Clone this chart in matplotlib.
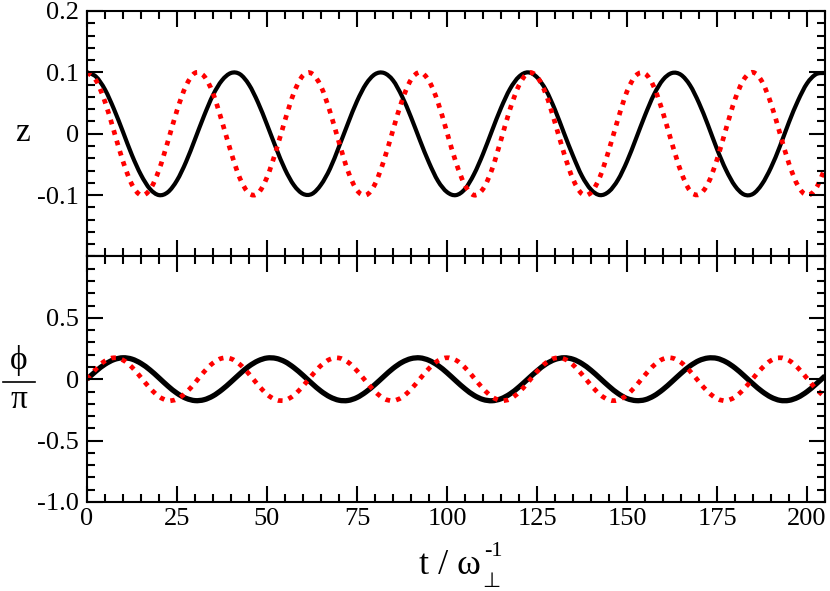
import numpy as np
import matplotlib
matplotlib.use("Agg")
import matplotlib.pyplot as plt
from matplotlib import font_manager as fm
from matplotlib.lines import Line2D
from matplotlib.path import Path
from matplotlib.patches import PathPatch
from matplotlib.ticker import MultipleLocator

# time grid (units of 1/omega_perp), one reading every 2.5
t = np.arange(83) * 2.5

# z(t), black solid curve
z_black = [
    0.100, 0.093, 0.072, 0.040, 0.003, -0.035, -0.067, -0.090, -0.100, -0.095,
    -0.076, -0.046, -0.009, 0.029, 0.063, 0.087, 0.099, 0.097, 0.080, 0.051,
    0.015, -0.023, -0.058, -0.084, -0.098, -0.098, -0.083, -0.057, -0.021, 0.017,
    0.053, 0.081, 0.097, 0.099, 0.087, 0.061, 0.027, -0.011, -0.047, -0.077,
    -0.095, -0.100, -0.090, -0.066, -0.033, 0.005, 0.042, 0.073, 0.093, 0.100,
    0.092, 0.071, 0.039, 0.001, -0.036, -0.069, -0.091, -0.100, -0.094, -0.075,
    -0.045, -0.008, 0.030, 0.064, 0.088, 0.099, 0.096, 0.079, 0.050, 0.014,
    -0.025, -0.059, -0.085, -0.099, -0.098, -0.082, -0.055, -0.020, 0.019, 0.054,
    0.082, 0.097, 0.099,
]

# z(t), red dotted curve
z_red = [
    0.100, 0.087, 0.052, 0.004, -0.045, -0.083, -0.100, -0.091, -0.059, -0.012,
    0.038, 0.078, 0.099, 0.094, 0.066, 0.020, -0.030, -0.073, -0.097, -0.097,
    -0.071, -0.028, 0.022, 0.067, 0.095, 0.098, 0.077, 0.036, -0.014, -0.061,
    -0.092, -0.100, -0.082, -0.043, 0.006, 0.054, 0.088, 0.100, 0.086, 0.051,
    0.002, -0.047, -0.084, -0.100, -0.090, -0.058, -0.010, 0.040, 0.079, 0.099,
    0.093, 0.064, 0.018, -0.032, -0.074, -0.098, -0.096, -0.070, -0.026, 0.024,
    0.069, 0.095, 0.098, 0.076, 0.034, -0.016, -0.062, -0.093, -0.099, -0.081,
    -0.042, 0.008, 0.056, 0.089, 0.100, 0.085, 0.049, 0.000, -0.049, -0.085,
    -0.100, -0.089, -0.056,
]

# phi/pi, black solid curve
phi_black = [
    0.000, 0.066, 0.122, 0.160, 0.175, 0.164, 0.129, 0.076, 0.011, -0.056,
    -0.114, -0.155, -0.174, -0.167, -0.136, -0.085, -0.022, 0.045, 0.106, 0.150,
    0.173, 0.170, 0.143, 0.094, 0.032, -0.035, -0.097, -0.144, -0.171, -0.173,
    -0.149, -0.103, -0.043, 0.024, 0.088, 0.138, 0.168, 0.174, 0.154, 0.112,
    0.053, -0.014, -0.078, -0.131, -0.165, -0.175, -0.159, -0.120, -0.063, 0.003,
    0.068, 0.124, 0.161, 0.175, 0.163, 0.127, 0.073, 0.008, -0.058, -0.116,
    -0.157, -0.174, -0.167, -0.135, -0.083, -0.019, 0.048, 0.108, 0.152, 0.173,
    0.170, 0.141, 0.092, 0.029, -0.038, -0.099, -0.146, -0.172, -0.172, -0.147,
    -0.101, -0.040, 0.027,
]

# phi/pi, red dotted curve
phi_red = [
    0.000, 0.085, 0.149, 0.175, 0.156, 0.098, 0.014, -0.073, -0.141, -0.174,
    -0.162, -0.109, -0.029, 0.060, 0.132, 0.171, 0.167, 0.120, 0.043, -0.046,
    -0.123, -0.168, -0.171, -0.130, -0.056, 0.032, 0.112, 0.163, 0.173, 0.139,
    0.069, -0.018, -0.100, -0.158, -0.175, -0.147, -0.082, 0.004, 0.088, 0.151,
    0.175, 0.155, 0.095, 0.011, -0.076, -0.143, -0.174, -0.161, -0.106, -0.025,
    0.063, 0.134, 0.172, 0.166, 0.117, 0.039, -0.049, -0.125, -0.169, -0.170,
    -0.128, -0.053, 0.035, 0.114, 0.165, 0.173, 0.137, 0.066, -0.021, -0.103,
    -0.159, -0.174, -0.145, -0.079, 0.007, 0.091, 0.153, 0.175, 0.153, 0.092,
    0.007, -0.079, -0.145,
]

x_ticks = [0, 25, 50, 75, 100, 125, 150, 175, 200]
z_ticks = [-0.1, 0, 0.1, 0.2]
z_labels = ["-0.1", "0", "0.1", "0.2"]
phi_ticks = [-1.0, -0.5, 0, 0.5, 1.0]
phi_labels = ["-1.0", "-0.5", "0", "0.5", ""]

# load the Times-like face straight from its file
serif_file = fm.findfont(fm.FontProperties(family="Liberation Serif"))


def serif(size):
    return fm.FontProperties(fname=serif_file, size=size)


def smooth_line(ax, x, y, **kw):
    # draw the readings as a smooth curve (Catmull-Rom -> cubic Bezier)
    p = np.column_stack([x, y])
    ext = np.vstack([p[0], p, p[-1]])
    verts = [p[0]]
    codes = [Path.MOVETO]
    for i in range(len(p) - 1):
        p0, p1, p2, p3 = ext[i], ext[i + 1], ext[i + 2], ext[i + 3]
        verts += [p1 + (p2 - p0) / 6, p2 - (p3 - p1) / 6, p2]
        codes += [Path.CURVE4] * 3
    ax.add_patch(PathPatch(Path(verts, codes), fill=False, **kw))


fig = plt.figure(figsize=(8.3, 5.91), dpi=100)
ax1 = fig.add_axes([0.1048, 0.566, 0.8892, 0.4154])
ax2 = fig.add_axes([0.1048, 0.1506, 0.8892, 0.4154])

smooth_line(ax1, t, z_black, edgecolor="black", lw=3.0)
smooth_line(ax1, t, z_red, edgecolor="red", lw=3.4, linestyle=(0, (1, 1.3)))
smooth_line(ax2, t, phi_black, edgecolor="black", lw=3.8)
smooth_line(ax2, t, phi_red, edgecolor="red", lw=3.4, linestyle=(0, (1, 1.3)))

ax1.set_ylim(-0.2, 0.2)
ax2.set_ylim(-1.0, 1.0)

for ax in (ax1, ax2):
    ax.set_xlim(0, 205)
    ax.set_xticks(x_ticks)
    ax.xaxis.set_minor_locator(MultipleLocator(5))
    ax.tick_params(which="both", direction="in", top=True, right=True,
                   width=1.5, pad=6)
    ax.tick_params(which="major", length=11.5)
    ax.tick_params(which="minor", length=5.8)
    for s in ax.spines.values():
        s.set_linewidth(1.5)

ax1.set_xticklabels([])
ax1.set_yticks(z_ticks)
ax1.set_yticklabels(z_labels, fontproperties=serif(19))
ax1.yaxis.set_minor_locator(MultipleLocator(0.02))

ax2.set_xticklabels([str(v) for v in x_ticks], fontproperties=serif(19))
ax2.tick_params(axis="x", pad=4)
ax2.set_yticks(phi_ticks)
ax2.set_yticklabels(phi_labels, fontproperties=serif(19))
ax2.yaxis.set_minor_locator(MultipleLocator(0.1))

# y labels
fig.text(22 / 830, 1 - 133 / 591, "z", fontproperties=serif(24),
         ha="center", va="center")
fig.text(19 / 830, 1 - 361 / 591, "\u03d5", fontproperties=serif(24),
         ha="center", va="center")
fig.text(19 / 830, 1 - 400 / 591, "\u03c0", fontproperties=serif(24),
         ha="center", va="center")
fig.add_artist(Line2D([3 / 830, 35 / 830], [1 - 382 / 591, 1 - 382 / 591],
                      color="black", lw=1.2, transform=fig.transFigure))

# x label: t / omega_perp^-1
fig.text(481 / 830, 1 - 566 / 591, "t / \u03c9", fontproperties=serif(26),
         ha="right", va="center")
fig.text(484 / 830, 1 - 551 / 591, "-1", fontproperties=serif(16),
         ha="left", va="center")
fig.text(482 / 830, 1 - 581 / 591, "\u22a5", fontsize=15, family="DejaVu Sans",
         ha="left", va="center")

fig.savefig("out.png", dpi=100)
